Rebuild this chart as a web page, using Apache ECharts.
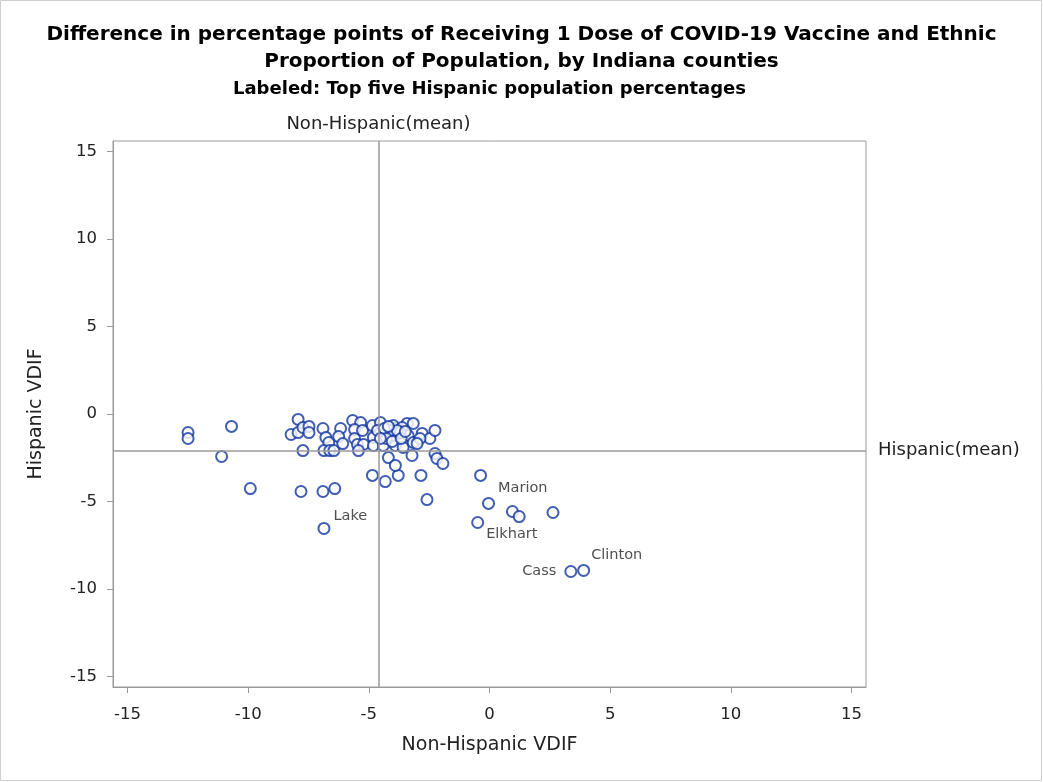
<!DOCTYPE html>
<html>
<head>
<meta charset="utf-8">
<script src="https://cdn.jsdelivr.net/npm/echarts@6/dist/echarts.min.js"></script>
<style>
	html, body { margin: 0; padding: 0; background: #fff; }
	#chart { width: 1043px; height: 782px; }
</style>
</head>
<body>
<div id="chart"></div>
<script>
// county values: non-Hispanic VDIF (x), Hispanic VDIF (y)
var nonHispVdif = [
	-12.49, -12.49, -10.69, -11.10, -9.91, -7.81, -6.90, -6.41, -6.86, -4.85,
	-4.32, -3.78, -2.84, -2.59, -0.37, -0.04, -0.49, 0.95, 1.23, 2.63,
	3.37, 3.90,
	-7.93, -8.22, -7.93, -7.73, -7.48, -7.48, -7.73,
	-6.90, -6.78, -6.66, -6.86, -6.62, -6.45, -6.17, -6.25, -6.08,
	-5.67, -5.34, -5.59, -5.59, -5.26, -5.47, -5.22, -5.43,
	-4.85, -4.81, -4.81,
	-4.52, -4.64, -4.19, -3.90, -3.78, -4.11, -4.40, -3.90, -4.03, -3.99, -4.32, -4.11,
	-3.58, -3.41, -3.16, -3.37, -3.16, -3.62, -3.70,
	-2.79, -2.47, -2.26, -2.88, -3.00, -3.21, -4.19, -3.90, -2.26, -2.18, -1.93,
	-4.36, -4.27, -4.03, -3.82, -3.66, -3.49, -4.52, -4.19
]
var hispVdif = [
	-1.06, -1.40, -0.71, -2.43, -4.26, -4.43, -4.43, -4.26, -6.54, -3.51,
	-3.86, -3.51, -3.51, -4.89, -3.51, -5.11, -6.20, -5.57, -5.86, -5.63,
	-9.00, -8.94,
	-0.31, -1.17, -1.06, -0.77, -0.71, -1.06, -2.09,
	-0.83, -1.34, -1.63, -2.09, -2.09, -2.09, -0.83, -1.29, -1.69,
	-0.37, -0.49, -0.89, -1.40, -0.94, -1.74, -1.74, -2.09,
	-0.66, -1.34, -1.80,
	-0.49, -0.94, -1.06, -0.83, -1.11, -1.40, -1.80, -1.80, -1.23, -0.66, -1.11, -0.94,
	-1.91, -0.54, -0.54, -1.23, -1.63, -0.77, -1.06,
	-1.11, -1.40, -0.94, -1.40, -1.69, -2.37, -2.49, -2.94, -2.26, -2.54, -2.83,
	-0.83, -1.40, -1.57, -0.94, -1.40, -1.00, -1.40, -0.71
]
// labeled counties (index into the arrays above) and where their text goes
var labeledIndex = [8, 15, 16, 20, 21]
var labeledNames = ['Lake', 'Marion', 'Elkhart', 'Cass', 'Clinton']
var labelOffsets = [[2, -12], [2, -15], [1, 12], [0, 0], [0, -15]]
var labelSides = ['right', 'right', 'right', 'left', 'right']

var nonHispMean = -4.6
var hispMean = -2.1
var tickValues = [-15, -10, -5, 0, 5, 10, 15]

var FONT = '"DejaVu Sans", sans-serif'
var POINT_COLOR = '#1236a0'
var LINE_GRAY = '#9a9a9a'

function buildPoints() {
	var pts = []
	for (var i = 0; i < nonHispVdif.length; i++) {
		var item = { value: [nonHispVdif[i], hispVdif[i]] }
		var k = labeledIndex.indexOf(i)
		if (k >= 0) {
			item.label = {
				show: true,
				formatter: labeledNames[k],
				position: labelSides[k],
				distance: labelSides[k] == 'left' ? 8 : 1,
				offset: labelOffsets[k],
				color: '#222',
				fontSize: 14.5,
				fontFamily: FONT,
			}
		}
		pts.push(item)
	}
	return pts
}

function axisCommon(name, nameGap, isY) {
	return {
		type: 'value',
		name: name,
		nameLocation: 'middle',
		nameGap: nameGap,
		nameRotate: isY ? 90 : 0,
		nameTextStyle: { color: '#222', fontSize: 19, fontFamily: FONT },
		min: -15.6,
		max: 15.6,
		splitLine: { show: false },
		axisLine: { show: true, onZero: false, lineStyle: { color: LINE_GRAY, width: 1 } },
		axisTick: {
			show: true,
			length: 6,
			lineStyle: { color: LINE_GRAY },
			customValues: tickValues,
		},
		axisLabel: {
			color: '#222',
			fontSize: 16.5,
			fontFamily: FONT,
			margin: isY ? 16 : 19,
			customValues: tickValues,
		},
	}
}

var myChart = echarts.init(document.getElementById('chart'))
var option = {
	animation: false,
	backgroundColor: '#fff',
	title: [
		{
			text: 'Difference in percentage points of Receiving 1 Dose of COVID-19 Vaccine and Ethnic\nProportion of Population, by Indiana counties',
			left: 'center',
			top: 16,
			textStyle: { fontSize: 20, fontWeight: 'bold', color: '#000', fontFamily: FONT, lineHeight: 27 },
		},
		{
			// subtitle sits centred over the plot area, not the page
			text: 'Labeled: Top five Hispanic population percentages',
			left: 484.5,
			textAlign: 'center',
			top: 75,
			textStyle: { fontSize: 18, fontWeight: 'bold', color: '#000', fontFamily: FONT },
		},
	],
	grid: {
		left: 113,
		right: 177,
		top: 141,
		bottom: 95,
		show: true,
		borderColor: LINE_GRAY,
		borderWidth: 1,
	},
	xAxis: axisCommon('Non-Hispanic VDIF', 49, false),
	yAxis: axisCommon('Hispanic VDIF', 67, true),
	graphic: [
		{
			type: 'rect',
			shape: { x: 0.5, y: 0.5, width: 1041, height: 780 },
			style: { fill: 'none', stroke: '#d0d0d0', lineWidth: 1 },
			silent: true,
		},
	],
	series: [
		{
			type: 'scatter',
			symbol: 'emptyCircle',
			symbolSize: 11,
			itemStyle: { color: POINT_COLOR, borderColor: POINT_COLOR, borderWidth: 1.5 },
			data: buildPoints(),
			markLine: {
				silent: true,
				symbol: 'none',
				lineStyle: { color: LINE_GRAY, type: 'solid', width: 1.5 },
				label: { color: '#222', fontSize: 18, fontFamily: FONT },
				data: [
					{ xAxis: nonHispMean, label: { formatter: 'Non-Hispanic(mean)', position: 'end', distance: 8 } },
					{ yAxis: hispMean, label: { formatter: 'Hispanic(mean)', position: 'end', distance: 12 } },
				],
			},
			z: 3,
		},
	],
}
option && myChart.setOption(option)
</script>
</body>
</html>
